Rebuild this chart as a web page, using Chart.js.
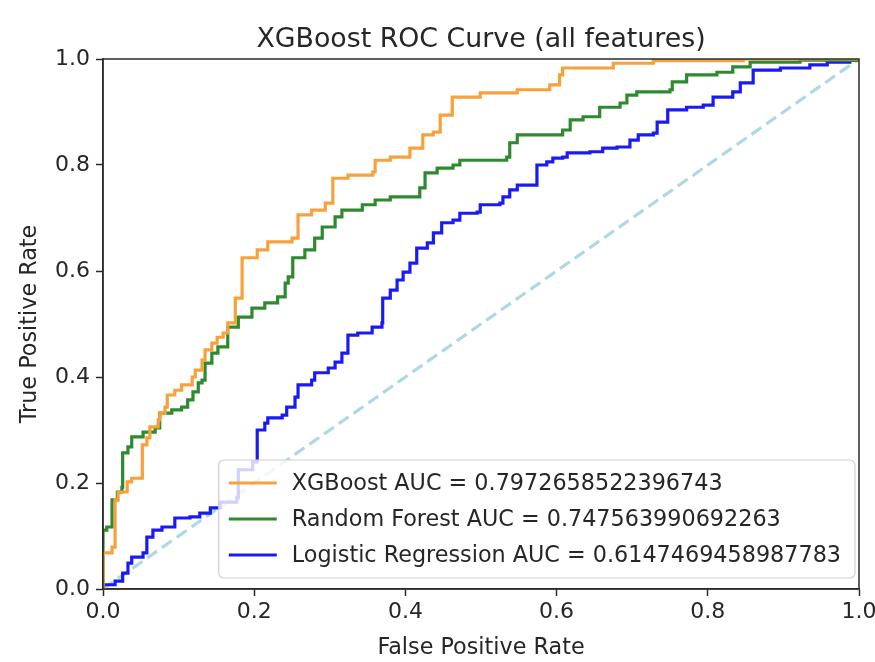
<!DOCTYPE html>
<html>
<head>
<meta charset="utf-8">
<script src="https://cdn.jsdelivr.net/npm/chart.js@4"></script>
<style>
  body { margin: 0; background: #fff; }
  #roc { display: block; }
</style>
</head>
<body>
<canvas id="roc" width="875" height="662"></canvas>
<script>
// -------------------------
// Data
// -------------------------
const xgbFpr = [0, 0, 0.012, 0.016, 0.020, 0.032, 0.038, 0.052, 0.058, 0.062, 0.073, 0.075, 0.082, 0.085, 0.095, 0.104, 0.118, 0.122, 0.131, 0.135, 0.144, 0.151, 0.159, 0.165, 0.175, 0.184, 0.204, 0.218, 0.250, 0.258, 0.276, 0.294, 0.304, 0.324, 0.357, 0.360, 0.380, 0.406, 0.423, 0.437, 0.446, 0.462, 0.499, 0.548, 0.591, 0.604, 0.608, 0.675, 0.728, 0.847, 1];
const xgbTpr = [0, 0.068, 0.079, 0.168, 0.183, 0.202, 0.209, 0.272, 0.285, 0.306, 0.319, 0.332, 0.343, 0.366, 0.375, 0.385, 0.400, 0.413, 0.432, 0.451, 0.464, 0.475, 0.483, 0.502, 0.549, 0.625, 0.640, 0.655, 0.662, 0.706, 0.715, 0.728, 0.775, 0.781, 0.787, 0.809, 0.815, 0.832, 0.857, 0.862, 0.894, 0.928, 0.936, 0.942, 0.951, 0.970, 0.983, 0.992, 0.997, 1, 1];

const rfFpr = [0, 0, 0.005, 0.012, 0.019, 0.025, 0.026, 0.033, 0.038, 0.053, 0.069, 0.075, 0.091, 0.104, 0.112, 0.119, 0.126, 0.131, 0.135, 0.144, 0.152, 0.165, 0.179, 0.197, 0.214, 0.231, 0.241, 0.245, 0.251, 0.267, 0.280, 0.290, 0.307, 0.316, 0.343, 0.360, 0.380, 0.419, 0.426, 0.442, 0.463, 0.472, 0.534, 0.538, 0.548, 0.608, 0.618, 0.635, 0.657, 0.684, 0.693, 0.706, 0.750, 0.753, 0.772, 0.812, 0.833, 0.856, 0.922, 1];
const rfTpr = [0, 0.111, 0.117, 0.168, 0.183, 0.192, 0.257, 0.268, 0.287, 0.296, 0.304, 0.332, 0.338, 0.343, 0.357, 0.372, 0.389, 0.394, 0.426, 0.445, 0.457, 0.494, 0.513, 0.530, 0.540, 0.551, 0.577, 0.589, 0.625, 0.640, 0.662, 0.683, 0.702, 0.715, 0.725, 0.734, 0.740, 0.757, 0.785, 0.794, 0.800, 0.809, 0.815, 0.842, 0.857, 0.866, 0.885, 0.891, 0.909, 0.917, 0.932, 0.938, 0.942, 0.957, 0.970, 0.975, 0.985, 0.994, 0.998, 1];

const lrFpr = [0, 0, 0.016, 0.026, 0.033, 0.038, 0.053, 0.058, 0.066, 0.078, 0.095, 0.115, 0.128, 0.142, 0.155, 0.177, 0.179, 0.198, 0.204, 0.214, 0.218, 0.237, 0.243, 0.254, 0.258, 0.276, 0.280, 0.298, 0.307, 0.316, 0.324, 0.337, 0.356, 0.369, 0.370, 0.380, 0.389, 0.397, 0.406, 0.415, 0.429, 0.437, 0.448, 0.463, 0.472, 0.495, 0.499, 0.525, 0.529, 0.538, 0.548, 0.574, 0.587, 0.595, 0.608, 0.614, 0.644, 0.661, 0.680, 0.697, 0.708, 0.728, 0.733, 0.747, 0.772, 0.794, 0.807, 0.833, 0.843, 0.860, 0.896, 0.935, 0.958, 0.988, 1];
const lrTpr = [0, 0.008, 0.015, 0.030, 0.049, 0.060, 0.068, 0.098, 0.111, 0.117, 0.134, 0.136, 0.143, 0.153, 0.164, 0.172, 0.225, 0.240, 0.300, 0.313, 0.323, 0.328, 0.343, 0.362, 0.385, 0.394, 0.408, 0.417, 0.428, 0.445, 0.479, 0.483, 0.494, 0.502, 0.549, 0.564, 0.583, 0.598, 0.615, 0.643, 0.653, 0.672, 0.691, 0.696, 0.709, 0.711, 0.725, 0.728, 0.740, 0.753, 0.762, 0.800, 0.806, 0.813, 0.815, 0.823, 0.825, 0.832, 0.834, 0.847, 0.857, 0.860, 0.881, 0.904, 0.909, 0.913, 0.928, 0.938, 0.955, 0.979, 0.983, 0.989, 0.994, 0.998, 1];

const chanceFpr = [0, 1];
const chanceTpr = [0, 1];

const seriesLabels = [
    'XGBoost AUC = 0.7972658522396743',
    'Random Forest AUC = 0.747563990692263',
    'Logistic Regression AUC = 0.6147469458987783'
];
const chartTitle = 'XGBoost ROC Curve (all features)';
const tickValues = [0, 0.2, 0.4, 0.6, 0.8, 1.0];

const FONT = "'DejaVu Sans', sans-serif";
const TEXT = '#262626';
const SPINE = '#2b2b2b';

function toPoints(xs, ys) {
    return xs.map((x, i) => ({ x: x, y: ys[i] }));
}

// -------------------------
// Frame (top / right spines), title over the axes, legend inside the axes
// -------------------------
const framePlugin = {
    id: 'frame',
    afterDatasetsDraw(chart) {
        const { ctx, chartArea: a } = chart;
        ctx.save();
        ctx.strokeStyle = SPINE;
        ctx.lineWidth = 1.5;
        ctx.strokeRect(a.left, a.top, a.right - a.left, a.bottom - a.top);

        // title centred over the plot area, like matplotlib
        ctx.font = '26.8px ' + FONT;
        ctx.fillStyle = TEXT;
        ctx.textAlign = 'center';
        ctx.textBaseline = 'alphabetic';
        ctx.fillText(chartTitle, (a.left + a.right) / 2, a.top - 12);
        ctx.restore();
    }
};

const insideLegend = {
    id: 'insideLegend',
    afterDraw(chart) {
        const { ctx, chartArea: a } = chart;
        const items = chart.data.datasets.filter(d => d.showInLegend);
        ctx.save();
        ctx.font = '22.3px ' + FONT;
        let maxW = 0;
        items.forEach(d => { maxW = Math.max(maxW, ctx.measureText(d.label).width); });

        const rowH = 36;
        const w = 10 + 48 + 15 + maxW + 14;
        const h = rowH * items.length + 10;
        const x = a.right - 4 - w;
        const y = a.bottom - 11 - h;

        ctx.beginPath();
        ctx.roundRect(x, y, w, h, 5);
        ctx.fillStyle = 'rgba(255,255,255,0.8)';
        ctx.fill();
        ctx.strokeStyle = '#d0d0d0';
        ctx.lineWidth = 1.2;
        ctx.stroke();

        items.forEach((d, i) => {
            const cy = y + 5 + rowH / 2 + i * rowH;
            ctx.beginPath();
            ctx.moveTo(x + 10, cy);
            ctx.lineTo(x + 58, cy);
            ctx.strokeStyle = d.borderColor;
            ctx.lineWidth = d.borderWidth;
            ctx.stroke();
            ctx.fillStyle = TEXT;
            ctx.textBaseline = 'middle';
            ctx.fillText(d.label, x + 73, cy + 1);
        });
        ctx.restore();
    }
};

// -------------------------
// Chart
// -------------------------
const ctx = document.getElementById('roc').getContext('2d');
new Chart(ctx, {
    type: 'line',
    data: {
        datasets: [
            {
                label: seriesLabels[0], showInLegend: true,
                data: toPoints(xgbFpr, xgbTpr),
                borderColor: '#f8a13c', borderWidth: 3.2, stepped: 'before'
            },
            {
                label: seriesLabels[1], showInLegend: true,
                data: toPoints(rfFpr, rfTpr),
                borderColor: '#2e8a2e', borderWidth: 3.2, stepped: 'before'
            },
            {
                label: seriesLabels[2], showInLegend: true,
                data: toPoints(lrFpr, lrTpr),
                borderColor: '#1a1af5', borderWidth: 3.2, stepped: 'before'
            },
            {
                label: 'chance', showInLegend: false,
                data: toPoints(chanceFpr, chanceTpr),
                borderColor: '#add8e6', borderWidth: 3.2, borderDash: [12, 6]
            }
        ]
    },
    options: {
        responsive: false,
        animation: false,
        events: [],
        elements: { point: { radius: 0 }, line: { tension: 0 } },
        layout: { padding: { top: 59, right: 16, bottom: 0, left: 0 } },
        plugins: {
            legend: { display: false },
            tooltip: { enabled: false },
            title: { display: false }
        },
        scales: {
            x: {
                type: 'linear', min: 0, max: 1,
                afterBuildTicks: s => { s.ticks = tickValues.map(v => ({ value: v })); },
                afterFit: s => { s.height = 73; s.paddingLeft = 0; s.paddingRight = 0; },
                ticks: {
                    color: TEXT, padding: 3, maxRotation: 0,
                    font: { family: FONT, size: 22 },
                    callback: v => v.toFixed(1)
                },
                grid: { drawOnChartArea: false, drawTicks: true, tickLength: 7, tickColor: SPINE, tickWidth: 1.5 },
                border: { display: true, color: SPINE, width: 1.5 },
                title: {
                    display: true, text: 'False Positive Rate', color: TEXT,
                    font: { family: FONT, size: 22.3 },
                    padding: { top: 0, bottom: 0 }
                }
            },
            y: {
                type: 'linear', min: 0, max: 1,
                afterBuildTicks: s => { s.ticks = tickValues.map(v => ({ value: v })); },
                afterFit: s => { s.width = 103; s.paddingTop = 0; s.paddingBottom = 0; },
                ticks: {
                    color: TEXT, padding: 6,
                    font: { family: FONT, size: 22 },
                    callback: v => v.toFixed(1)
                },
                grid: { drawOnChartArea: false, drawTicks: true, tickLength: 7, tickColor: SPINE, tickWidth: 1.5 },
                border: { display: true, color: SPINE, width: 1.5 },
                title: {
                    display: true, text: 'True Positive Rate', color: TEXT,
                    font: { family: FONT, size: 22.3 },
                    padding: { top: 17, bottom: 0 }
                }
            }
        }
    },
    plugins: [framePlugin, insideLegend]
});
</script>
</body>
</html>
